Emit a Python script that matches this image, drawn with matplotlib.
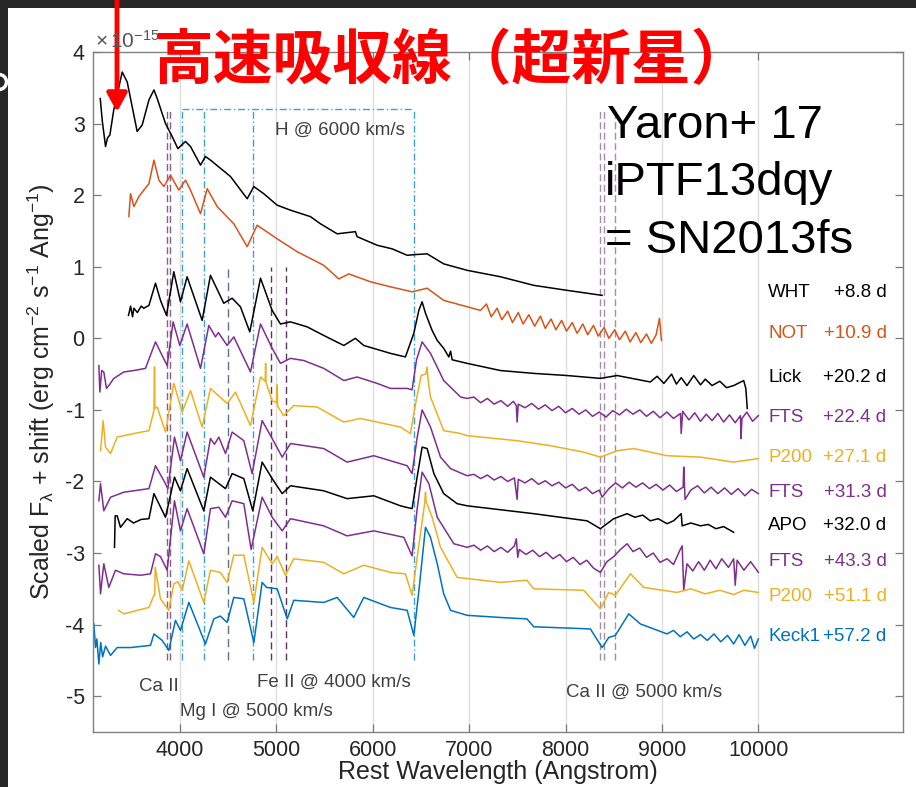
import matplotlib
matplotlib.use('Agg')
import matplotlib.pyplot as plt
from matplotlib.patches import Rectangle, Circle

plt.rc('font', family=['Liberation Sans', 'DejaVu Sans'])
plt.rc('mathtext', fontset='custom', rm='Liberation Sans', it='Liberation Sans:italic', default='regular')

BLACK = '#000000'
ORANGE = '#D95319'
PURPLE = '#7E2F8E'
YELLOW = '#EDB120'
BLUE = '#0072BD'
NOTE_COLOR = '#404040'

# spectra, rest wavelength [A] and scaled flux + shift [1e-15]
wht_wl = [3175, 3197, 3230, 3250, 3275, 3315, 3403, 3455, 3558, 3610, 3680, 3732, 3766, 3852, 3921,
          3980, 4059, 4111, 4215, 4266, 4318, 4526, 4699, 4768, 4871, 5010, 5148, 5355, 5459, 5632,
          5821, 5839, 6047, 6202, 6358, 6444, 6565, 6737, 6980, 7325, 7671, 8017, 8380]
wht_flux = [3.35, 3.03, 2.68, 2.80, 2.84, 3.19, 3.72, 3.58, 2.89, 2.98, 3.33, 3.47, 3.35, 3.00, 2.82,
            2.65, 2.75, 2.68, 2.42, 2.54, 2.49, 2.26, 1.95, 2.12, 2.02, 1.86, 1.79, 1.70, 1.60, 1.46,
            1.49, 1.42, 1.30, 1.25, 1.16, 1.17, 1.18, 1.04, 0.95, 0.86, 0.74, 0.67, 0.60]

not_wl = [3472, 3489, 3524, 3576, 3627, 3680, 3732, 3783, 3835, 3904, 3990, 4059, 4111, 4215, 4284,
          4388, 4560, 4699, 4802, 5010, 5217, 5493, 5649, 5752, 5977, 6184, 6409, 6565, 6737, 7118,
          7180, 7230, 7290, 7340, 7400, 7450, 7510, 7560, 7620, 7680, 7740, 7790, 7850, 7900, 7960,
          8010, 8070, 8120, 8180, 8230, 8290, 8340, 8400, 8450, 8510, 8560, 8620, 8670, 8730, 8780,
          8840, 8890, 8940, 8975, 8995]
not_flux = [1.70, 2.02, 1.84, 1.98, 2.07, 2.16, 2.49, 2.21, 2.12, 2.28, 2.07, 2.21, 2.07, 1.74, 2.09,
            1.84, 1.60, 1.28, 1.58, 1.39, 1.21, 1.02, 0.83, 0.90, 0.79, 0.72, 0.65, 0.70, 0.53, 0.39,
            0.48, 0.30, 0.42, 0.26, 0.38, 0.22, 0.36, 0.20, 0.33, 0.17, 0.31, 0.14, 0.27, 0.12, 0.25,
            0.10, 0.22, 0.07, 0.20, 0.05, 0.18, 0.03, 0.15, 0.00, 0.12, -0.02, 0.10, -0.05, 0.08, -0.06,
            0.06, -0.07, 0.05, 0.28, -0.03]

lick_wl = [3468, 3490, 3510, 3524, 3560, 3600, 3627, 3680, 3748, 3800, 3862, 3938, 4007, 4076, 4232,
           4318, 4456, 4543, 4629, 4726, 4837, 4958, 5044, 5148, 5321, 5493, 5701, 5821, 5908, 6184,
           6340, 6427, 6479, 6513, 6548, 6617, 6670, 6737, 6790, 6808, 6825, 6980, 7325, 7671, 8017,
           8362, 8535, 8880, 8950, 9020, 9100, 9150, 9200, 9260, 9330, 9400, 9450, 9520, 9600, 9670,
           9744, 9848, 9870, 9885]
lick_flux = [0.32, 0.45, 0.30, 0.42, 0.36, 0.45, 0.42, 0.46, 0.77, 0.53, 0.32, 0.93, 0.51, 0.86, 0.25,
             0.88, 0.49, 0.56, 0.44, 0.09, 0.84, 0.39, 0.20, 0.23, 0.16, 0.04, -0.10, 0.00, -0.10, -0.21,
             -0.26, 0.07, 0.39, 0.51, 0.35, 0.11, -0.03, -0.14, -0.26, -0.18, -0.30, -0.35, -0.45, -0.49, -0.52,
             -0.56, -0.52, -0.61, -0.53, -0.63, -0.50, -0.64, -0.55, -0.66, -0.52, -0.65, -0.57, -0.66, -0.60, -0.69,
             -0.66, -0.59, -0.70, -0.98]

fts1_wl = [3161, 3171, 3190, 3212, 3240, 3264, 3316, 3420, 3524, 3644, 3748, 3817, 3869, 3931, 4000,
           4076, 4215, 4301, 4370, 4400, 4491, 4560, 4733, 4837, 4958, 5044, 5148, 5286, 5493, 5701,
           5839, 6047, 6184, 6358, 6409, 6455, 6513, 6600, 6737, 6912, 6980,
           7050, 7120, 7190, 7260, 7330, 7400, 7460, 7490, 7498, 7510, 7580, 7650, 7720, 7790, 7860,
           7930, 8000, 8070, 8140, 8210, 8280, 8350, 8420, 8490, 8560, 8630, 8700, 8770, 8840, 8910,
           8980, 9050, 9120, 9192, 9200, 9215, 9280, 9340, 9400, 9460, 9520, 9580, 9640, 9700, 9760,
           9814, 9820, 9830, 9880, 9940, 10000]
fts1_flux = [-0.38, -0.75, -0.45, -0.47, -0.70, -0.66, -0.56, -0.47, -0.45, -0.42, -0.05, -0.24, -0.38, 0.23, -0.10,
             0.20, -0.42, 0.18, 0.02, 0.08, -0.10, 0.02, -0.47, 0.20, -0.14, -0.35, -0.28, -0.31, -0.42, -0.59,
             -0.54, -0.63, -0.70, -0.70, -0.72, -0.30, -0.05, -0.21, -0.59, -0.82, -0.84,
             -0.82, -0.90, -0.84, -0.92, -0.87, -0.95, -0.88, -0.94, -1.17, -0.92, -0.97, -0.91, -0.99, -0.93, -1.01,
             -0.95, -1.04, -0.98, -1.06, -1.00, -1.09, -1.03, -1.10, -1.01, -1.07, -0.99, -1.06, -1.00, -1.09, -1.02,
             -1.11, -1.03, -1.12, -1.05, -1.33, -1.02, -1.14, -1.04, -1.16, -1.06, -1.15, -1.05, -1.17, -1.07, -1.18,
             -1.08, -1.40, -1.12, -1.03, -1.16, -1.08]

p200a_wl = [3178, 3205, 3230, 3282, 3351, 3524, 3680, 3732, 3738, 3742, 3766, 3852, 3938, 4025, 4111,
            4232, 4318, 4491, 4578, 4733, 4837, 4885, 4890, 4895, 4958, 5005, 5010, 5015, 5078, 5182,
            5424, 5701, 5874, 6288, 6392, 6440, 6503, 6550, 6565, 6575, 6600, 6737, 6912, 6980, 7498,
            7843, 8189, 8362, 8535, 8708, 9053, 9400, 9744, 10000]
p200a_flux = [-1.57, -1.15, -1.52, -1.61, -1.38, -1.33, -1.29, -1.01, -0.40, -0.98, -0.96, -1.31, -0.63, -1.03, -0.73,
              -1.24, -0.70, -0.91, -0.75, -1.22, -0.54, -0.60, -0.35, -0.62, -0.87, -0.90, -0.65, -0.95, -1.08, -0.94,
              -0.96, -1.17, -1.12, -1.24, -1.33, -0.95, -0.52, -0.50, -0.40, -0.58, -0.82, -1.29, -1.33, -1.36, -1.43,
              -1.50, -1.59, -1.66, -1.57, -1.54, -1.64, -1.66, -1.73, -1.68]

fts2_wl = [3161, 3178, 3212, 3282, 3420, 3680, 3748, 3835, 3877, 3945, 4007, 4076, 4249, 4318, 4360,
           4405, 4474, 4543, 4664, 4750, 4854, 4958, 5062, 5148, 5493, 5735, 6012, 6358, 6409, 6460,
           6513, 6600, 6704, 6808, 6980,
           7050, 7120, 7190, 7260, 7330, 7400, 7470, 7498, 7510, 7580, 7650, 7720, 7790, 7860, 7930,
           8000, 8070, 8140, 8210, 8280, 8350, 8380, 8450, 8520, 8590, 8660, 8730, 8800, 8870, 8940,
           9010, 9080, 9150, 9220, 9226, 9240, 9300, 9370, 9440, 9510, 9580, 9650, 9720, 9790, 9860,
           9930, 10000]
fts2_flux = [-2.27, -2.03, -2.41, -2.22, -2.15, -2.10, -1.78, -1.99, -2.10, -1.38, -1.71, -1.31, -1.94, -1.40, -1.48,
             -1.38, -1.61, -1.31, -1.43, -1.89, -1.15, -1.40, -1.66, -1.47, -1.54, -1.73, -1.64, -1.78, -1.89, -1.40,
             -1.00, -1.24, -1.66, -1.82, -1.92,
             -1.90, -1.96, -1.91, -1.98, -1.93, -2.00, -1.95, -2.25, -1.97, -2.02, -1.96, -2.04, -1.99, -2.06, -2.01,
             -2.09, -2.04, -2.13, -2.08, -2.17, -2.12, -2.22, -2.10, -2.02, -2.09, -2.01, -2.08, -2.02, -2.10, -2.04,
             -2.12, -2.05, -2.14, -2.08, -1.80, -2.25, -2.12, -2.06, -2.16, -2.08, -2.17, -2.09, -2.18, -2.10, -2.20,
             -2.11, -2.17]

apo_wl = [3323, 3330, 3351, 3385, 3455, 3520, 3600, 3680, 3732, 3852, 3945, 4007, 4076, 4249, 4318,
          4474, 4543, 4664, 4757, 4854, 4958, 5062, 5148, 5493, 5735, 6012, 6288, 6409, 6460, 6513,
          6565, 6635, 6737, 6876, 6980, 7671, 8224, 8362, 8500, 8639, 8720, 8800, 8880, 8960, 9053,
          9120, 9200, 9210, 9300, 9400, 9480, 9560, 9640, 9744]
apo_flux = [-2.92, -2.48, -2.48, -2.64, -2.52, -2.58, -2.53, -2.52, -2.17, -2.50, -1.94, -2.13, -1.82, -2.41, -1.94,
            -2.10, -1.89, -1.96, -2.41, -1.73, -1.96, -2.17, -2.06, -2.13, -2.24, -2.20, -2.34, -2.38, -1.95, -1.52,
            -1.54, -1.89, -2.17, -2.31, -2.34, -2.45, -2.55, -2.66, -2.52, -2.45, -2.50, -2.47, -2.55, -2.52, -2.59,
            -2.55, -2.45, -2.62, -2.58, -2.62, -2.60, -2.66, -2.63, -2.71]

fts3_wl = [3161, 3178, 3212, 3264, 3333, 3420, 3593, 3696, 3748, 3800, 3869, 3945, 4007, 4076, 4249,
           4318, 4405, 4474, 4543, 4664, 4740, 4854, 4958, 5062, 5148, 5493, 5735, 6012, 6323, 6409,
           6460, 6513, 6583, 6670, 6842, 6980,
           7050, 7120, 7190, 7260, 7330, 7400, 7470, 7490, 7505, 7520, 7590, 7660, 7730, 7800, 7870,
           7940, 8010, 8080, 8150, 8220, 8290, 8362, 8430, 8500, 8570, 8639, 8700, 8770, 8840, 8910,
           8980, 9053, 9120, 9190, 9210, 9226, 9260, 9320, 9380, 9440, 9500, 9560, 9620, 9690, 9744,
           9760, 9780, 9850, 9920, 10000]
fts3_flux = [-3.17, -3.57, -3.15, -3.48, -3.24, -3.29, -3.31, -3.29, -3.01, -3.05, -3.24, -2.27, -2.69, -2.38, -3.01,
             -2.38, -2.36, -2.50, -2.27, -2.31, -2.95, -2.22, -2.50, -2.69, -2.52, -2.62, -2.76, -2.69, -2.78, -3.04,
             -2.40, -1.87, -2.03, -2.50, -2.87, -2.92,
             -2.89, -2.96, -2.90, -2.98, -2.92, -2.99, -2.90, -2.80, -3.06, -2.95, -3.02, -2.96, -3.05, -2.99, -3.08,
             -3.02, -3.12, -3.06, -3.16, -3.10, -3.21, -3.27, -3.12, -3.05, -2.95, -2.87, -2.98, -2.93, -3.06, -3.00,
             -3.13, -3.08, -3.16, -2.95, -2.90, -3.52, -3.15, -3.25, -3.12, -3.24, -3.10, -3.22, -3.08, -3.20, -3.08,
             -3.45, -3.10, -3.24, -3.12, -3.27]

p200b_wl = [3366, 3420, 3560, 3680, 3732, 3740, 3745, 3800, 3886, 3938, 3980, 4025, 4094, 4249, 4318,
            4420, 4491, 4560, 4664, 4768, 4854, 4958, 5010, 5096, 5182, 5493, 5701, 5908, 6184, 6340,
            6409, 6462, 6540, 6548, 6555, 6617, 6704, 6876, 7325, 7600, 7671, 8189, 8362, 8448, 8517,
            8674, 8812, 9157, 9300, 9450, 9600, 9744, 9850, 10000]
p200b_flux = [-3.80, -3.85, -3.80, -3.76, -3.59, -3.59, -3.20, -3.64, -3.80, -3.43, -3.40, -3.52, -3.11, -3.69, -3.24,
              -3.27, -3.41, -3.03, -3.03, -3.69, -2.92, -3.15, -3.05, -3.31, -3.08, -3.13, -3.29, -3.17, -3.27, -3.29,
              -3.59, -3.06, -2.30, -2.15, -2.28, -2.50, -2.92, -3.34, -3.41, -3.38, -3.50, -3.52, -3.78, -3.55, -3.59,
              -3.29, -3.48, -3.55, -3.50, -3.57, -3.52, -3.58, -3.52, -3.55]

keck_wl = [3109, 3126, 3140, 3161, 3180, 3200, 3230, 3282, 3351, 3489, 3696, 3732, 3817, 3886, 3955,
           4007, 4094, 4266, 4353, 4420, 4491, 4560, 4664, 4768, 4854, 4900, 5010, 5114, 5182, 5493,
           5632, 5804, 5908, 6184, 6358, 6427, 6480, 6548, 6600, 6670, 6737, 6808, 6980, 7325, 7600,
           7671, 8258, 8380, 8448, 8517, 8656, 8776, 9053, 9120, 9190, 9260, 9330, 9400, 9470, 9540,
           9610, 9680, 9744, 9800, 9860, 9920, 9960, 10000]
keck_flux = [-3.99, -4.32, -4.20, -4.55, -4.25, -4.45, -4.30, -4.43, -4.32, -4.32, -4.29, -4.13, -4.22, -4.36, -3.94,
             -4.08, -3.69, -4.27, -3.92, -3.88, -3.97, -3.62, -3.64, -4.25, -3.41, -3.48, -3.50, -3.92, -3.66, -3.69,
             -3.62, -3.90, -3.62, -3.76, -3.80, -4.15, -3.52, -2.64, -2.78, -3.15, -3.57, -3.80, -3.87, -3.90, -3.92,
             -4.03, -4.06, -4.32, -4.18, -4.15, -3.85, -3.99, -4.13, -4.08, -4.17, -4.10, -4.20, -4.14, -4.22, -4.13,
             -4.24, -4.15, -4.27, -4.14, -4.29, -4.16, -4.33, -4.20]

telescopes = ['WHT', 'NOT', 'Lick', 'FTS', 'P200', 'FTS', 'APO', 'FTS', 'P200', 'Keck1']
epochs = ['+8.8 d', '+10.9 d', '+20.2 d', '+22.4 d', '+27.1 d', '+31.3 d', '+32.0 d', '+43.3 d', '+51.1 d', '+57.2 d']
label_y = [0.64, 0.07, -0.55, -1.11, -1.66, -2.15, -2.62, -3.12, -3.61, -4.17]
colors = [BLACK, ORANGE, BLACK, PURPLE, YELLOW, PURPLE, BLACK, PURPLE, YELLOW, BLUE]

# line markers (blueshifted)
ca_hk = [3868, 3902]
h_lines = [4020, 4253, 4764, 6432]
mg_lines = [4495]
fe_lines = [4951, 5100]
ca_ir = [8356, 8400, 8518]


def main():
    fig = plt.figure(figsize=(9.16, 7.87), dpi=100)
    fig.patch.set_facecolor('#262626')
    fig.add_artist(Rectangle((8 / 916, 0), 1, 1 - 8 / 787, transform=fig.transFigure,
                             facecolor='white', edgecolor='none', zorder=-10))
    fig.add_artist(Circle((-0.01, (787 - 82) / 100), 0.075, transform=fig.dpi_scale_trans,
                          fill=False, edgecolor='white', lw=2.5))

    ax = fig.add_axes([93 / 916, 55 / 787, 810 / 916, 680 / 787])

    spectra = [(wht_wl, wht_flux), (not_wl, not_flux), (lick_wl, lick_flux), (fts1_wl, fts1_flux),
               (p200a_wl, p200a_flux), (fts2_wl, fts2_flux), (apo_wl, apo_flux), (fts3_wl, fts3_flux),
               (p200b_wl, p200b_flux), (keck_wl, keck_flux)]

    lo, hi_long, hi_short = -4.5, 3.2, 1.0
    ax.vlines(ca_hk, lo, hi_long, colors='#86608a', lw=1.0, linestyles=(0, (5, 2.5)), zorder=1)
    ax.vlines(h_lines, lo, hi_long, colors='#3f9fd8', lw=1.0, linestyles=(0, (5, 2, 1, 2)), zorder=1)
    ax.hlines(hi_long, h_lines[0], h_lines[-1], colors='#3f9fd8', lw=1.0, linestyles=(0, (5, 2, 1, 2)), zorder=1)
    ax.vlines(mg_lines, lo, hi_short, colors='#5f7391', lw=1.0, linestyles=(0, (6, 3.5)), zorder=1)
    ax.vlines(fe_lines, lo, hi_short, colors='#5c3560', lw=1.0, linestyles=(0, (5, 3)), zorder=1)
    ax.vlines(ca_ir, lo, hi_long, colors='#a58ea8', lw=1.0, linestyles=(0, (5, 2.5)), zorder=1)

    for (wl, fl), c in zip(spectra, colors):
        ax.plot(wl, fl, color=c, lw=1.1, zorder=2)

    for name, ep, y, c in zip(telescopes, epochs, label_y, colors):
        ax.text(10104, y, name, color=c, fontsize=13.5, va='center', ha='left')
        ax.text(11329, y, ep, color=c, fontsize=13.5, va='center', ha='right')

    ax.text(5666, 2.91, 'H @ 6000 km/s', color=NOTE_COLOR, fontsize=13.5, ha='center', va='center')
    ax.text(3779, -4.87, 'Ca II', color=NOTE_COLOR, fontsize=13.5, ha='center', va='center')
    ax.text(4795, -5.22, 'Mg I @ 5000 km/s', color=NOTE_COLOR, fontsize=13.5, ha='center', va='center')
    ax.text(5599, -4.80, 'Fe II @ 4000 km/s', color=NOTE_COLOR, fontsize=13.5, ha='center', va='center')
    ax.text(8818, -4.94, 'Ca II @ 5000 km/s', color=NOTE_COLOR, fontsize=13.5, ha='center', va='center')

    ax.set_xlim(3100, 11500)
    ax.set_ylim(-5.5, 4)
    ax.set_xticks([4000, 5000, 6000, 7000, 8000, 9000, 10000])
    ax.set_yticks([-5, -4, -3, -2, -1, 0, 1, 2, 3, 4])
    ax.set_yticklabels(['-5', '-4', '-3', '-2', '-1', '0', '1', '2', '3', '4'])
    ax.xaxis.grid(True, color='#dedede', lw=1.0)
    ax.set_axisbelow(True)
    ax.tick_params(direction='in', top=True, right=True, length=6, width=0.9, color='#7a7a7a',
                   labelsize=15.5, labelcolor='#262626', pad=6)
    for s in ax.spines.values():
        s.set_color('#808080')
        s.set_linewidth(1.0)

    ax.set_xlabel('Rest Wavelength (Angstrom)', fontsize=18, color='#262626', labelpad=-1)
    ax.set_ylabel(r'Scaled F$_\lambda$ + shift (erg cm$^{-2}$ s$^{-1}$ Ang$^{-1}$)',
                  fontsize=18, color='#262626', labelpad=6)

    fig.text(95 / 916, 1 - 41 / 787, r'$\times\,10^{-15}$', fontsize=15, color='#555555', va='center')

    fig.text(607 / 916, 1 - 126 / 787, 'Yaron+ 17', fontsize=34, color='black', va='center')
    fig.text(605 / 916, 1 - 183 / 787, 'iPTF13dqy', fontsize=34, color='black', va='center')
    fig.text(605 / 916, 1 - 241 / 787, '= SN2013fs', fontsize=34, color='black', va='center')

    fig.text(153 / 916, 1 - 62 / 787, '高速吸収線（超新星）', fontsize=43, color='#ff0000',
             fontweight='bold', family=['Noto Sans CJK JP', 'DejaVu Sans'], va='center', ha='left')

    ax.annotate('', xy=(117 / 916, 1 - 112 / 787), xytext=(117 / 916, 1.0),
                xycoords='figure fraction', textcoords='figure fraction',
                arrowprops=dict(arrowstyle='-|>,head_length=1.1,head_width=0.6',
                                color='#ff0000', lw=3.5, shrinkA=0, shrinkB=0))

    fig.savefig('out.png', dpi=100, facecolor=fig.get_facecolor())
    plt.close(fig)


main()
